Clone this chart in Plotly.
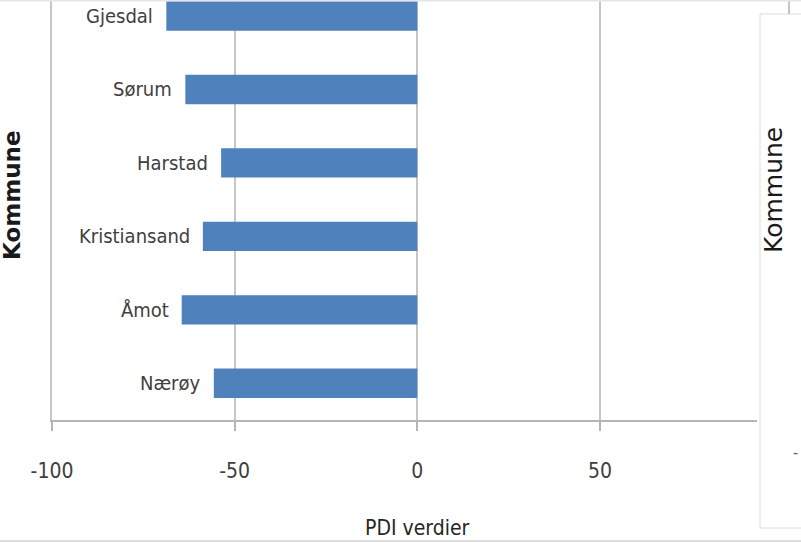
import plotly.graph_objects as go

# Data (top to bottom in the picture)
kommuner = ["Gjesdal", "Sørum", "Harstad", "Kristiansand", "Åmot", "Nærøy"]
pdi_verdier = [-68.7, -63.5, -53.7, -58.7, -64.5, -55.7]
tick_vals = [-100, -50, 0, 50]
tick_text = ["-100", "-50", "0", "50"]

FONT = "DejaVu Sans Condensed, Liberation Sans Narrow, Arial Narrow, sans-serif"
BLUE = "#4f81bd"
GRID = "#c6c6c6"

cats_bottom_up = kommuner[::-1]
vals_bottom_up = pdi_verdier[::-1]

fig = go.Figure()
fig.add_trace(go.Bar(
    x=vals_bottom_up, y=cats_bottom_up, orientation="h",
    marker=dict(color=BLUE, line=dict(width=0)),
    width=0.40, hoverinfo="x+y",
))

# category labels next to the bar ends
for k, v in zip(kommuner, pdi_verdier):
    fig.add_annotation(x=v, y=k, xref="x", yref="y", text=k, showarrow=False,
                       xanchor="right", yanchor="middle", xshift=-11,
                       font=dict(family=FONT, size=20, color="#404040"))

W, H = 801, 542
L, R, T, B = 52, 757, 0, 420

fig.update_layout(
    width=W, height=H,
    margin=dict(l=L, r=W - R, t=T, b=H - B),
    paper_bgcolor="white", plot_bgcolor="white",
    showlegend=False, bargap=0.6,
    xaxis=dict(
        range=[-100, 93], tickvals=tick_vals, ticktext=tick_text,
        showgrid=True, gridcolor=GRID, gridwidth=1.5,
        zeroline=False, showline=True, linecolor="#b5b5b5", linewidth=2,
        ticks="outside", ticklen=9, tickcolor="#b5b5b5", tickwidth=1.5,
        ticklabelstandoff=22,
        tickfont=dict(family=FONT, size=21, color="#404040"),
    ),
    yaxis=dict(
        type="category", categoryorder="array", categoryarray=cats_bottom_up,
        range=[-0.5, 5.218], showticklabels=False, showgrid=False,
        zeroline=False, showline=True, linecolor=GRID, linewidth=1.5, ticks="",
    ),
)

# axis titles
fig.add_annotation(text="PDI verdier", xref="x", yref="paper", x=0, y=-(528 - B) / B,
                   showarrow=False, xanchor="center", yanchor="middle",
                   font=dict(family=FONT, size=21, color="#262626"))
fig.add_annotation(text="<b>Kommune</b>", xref="paper", yref="paper",
                   x=-(L - 12) / (R - L), y=1 - 195 / B, textangle=-90,
                   showarrow=False, xanchor="center", yanchor="middle",
                   font=dict(family="DejaVu Sans, sans-serif", size=23, color="#1a1a1a"))

# right-hand neighbouring panel fragment
def px_x(p):
    return (p - L) / (R - L)

def px_y(p):
    return 1 - (p - T) / (B - T)

fig.add_shape(type="rect", xref="paper", yref="paper",
              x0=px_x(760), x1=px_x(820), y0=px_y(528), y1=px_y(14),
              line=dict(color="#dcdcdc", width=1), fillcolor="white", layer="above")
fig.add_shape(type="line", xref="paper", yref="paper",
              x0=px_x(789), x1=px_x(789), y0=px_y(0), y1=px_y(14),
              line=dict(color="#b0b0b0", width=1.5))
fig.add_annotation(text="Kommune", xref="paper", yref="paper",
                   x=px_x(774), y=px_y(190), textangle=-90, showarrow=False,
                   xanchor="center", yanchor="middle",
                   font=dict(family="DejaVu Sans, sans-serif", size=25, color="#1a1a1a"))
fig.add_annotation(text="-", xref="paper", yref="paper",
                   x=px_x(795), y=px_y(452), showarrow=False,
                   xanchor="center", yanchor="middle",
                   font=dict(family=FONT, size=16, color="#606060"))
# faint screenshot borders
fig.add_shape(type="line", xref="paper", yref="paper",
              x0=px_x(0), x1=px_x(801), y0=px_y(0.5), y1=px_y(0.5),
              line=dict(color="#e6e6e6", width=2))
fig.add_shape(type="line", xref="paper", yref="paper",
              x0=px_x(0), x1=px_x(801), y0=px_y(541), y1=px_y(541),
              line=dict(color="#dddddd", width=2))

fig.write_html("out.html", config={"displayModeBar": False},
               post_script="document.body.style.margin='0px';document.body.style.overflow='hidden';")
